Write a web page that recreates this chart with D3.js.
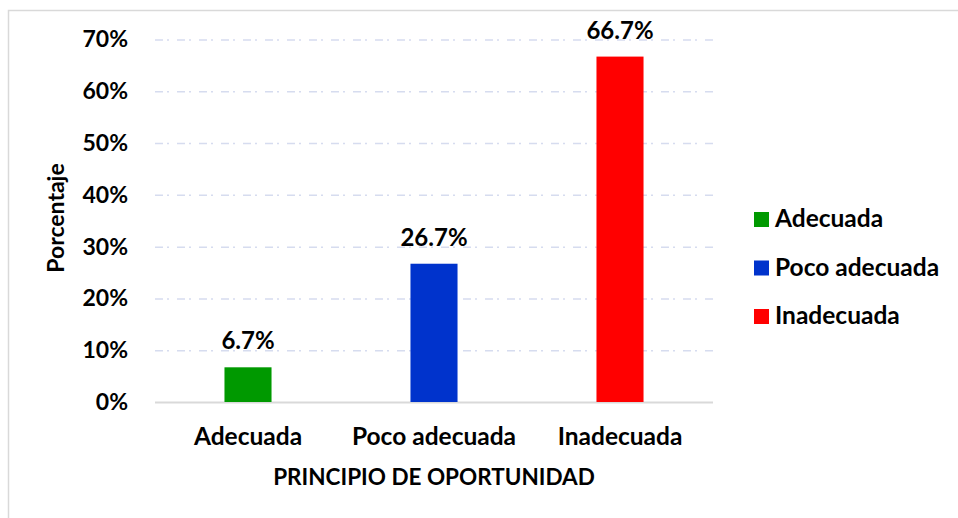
<!DOCTYPE html>
<html>
<head>
<meta charset="utf-8">
<script src="https://cdn.jsdelivr.net/npm/d3@7"></script>
<style>
  body { margin: 0; background: #fff; overflow: hidden; }
  text { font-family: Lato, "Open Sans", sans-serif; font-weight: bold; fill: #000; }
</style>
</head>
<body>
<svg width="958" height="518"></svg>
<script>
// data
const categories = ['Adecuada', 'Poco adecuada', 'Inadecuada'];
const values = [0.067, 0.267, 0.667];
const valueLabels = ['6.7%', '26.7%', '66.7%'];
const colors = ['#009900', '#0033cc', '#ff0000'];
const yTicks = [0, 0.1, 0.2, 0.3, 0.4, 0.5, 0.6, 0.7];

const svg = d3.select('svg');
const width = +svg.attr('width');
const height = +svg.attr('height');

const margin = {top: 39.5, right: 245, bottom: 116, left: 155};
const innerWidth = width - margin.left - margin.right;
const innerHeight = height - margin.top - margin.bottom;

// frame of the chart area (only top and left edges are inside the picture)
svg.append('path')
  .attr('d', `M8.5,${height}V10.5H${width}`)
  .attr('fill', 'none')
  .attr('stroke', '#d9d9d9')
  .attr('stroke-width', 1.5);

const g = svg.append('g')
  .attr('transform', `translate(${margin.left},${margin.top})`);

const xScale = d3.scaleBand()
  .domain(categories)
  .range([0, innerWidth])
  .paddingInner(0.747)
  .paddingOuter(0.3735);

const yScale = d3.scaleLinear()
  .domain([0, 0.7])
  .range([innerHeight, 0]);

// y axis with gridlines
const yAxisG = g.append('g')
  .call(d3.axisLeft(yScale)
    .tickValues(yTicks)
    .tickFormat(d3.format('.0%'))
    .tickSize(-innerWidth)
    .tickPadding(27))
  .attr('font-size', 23)
  .attr('font-family', 'Lato, sans-serif');
yAxisG.select('.domain').remove();
yAxisG.selectAll('.tick text').attr('fill', '#000');
yAxisG.selectAll('.tick line')
  .attr('stroke', '#d6dcef')
  .attr('stroke-width', 1.5)
  .attr('stroke-dasharray', '8,4,2,8');
yAxisG.selectAll('.tick').filter(d => d === 0).select('line')
  .attr('stroke', '#d9d9d9')
  .attr('stroke-width', 2)
  .attr('stroke-dasharray', null);

// x axis labels
const xAxisG = g.append('g')
  .attr('transform', `translate(0,${innerHeight})`)
  .call(d3.axisBottom(xScale).tickSize(0).tickPadding(26))
  .attr('font-size', 24.5)
  .attr('font-family', 'Lato, sans-serif');
xAxisG.select('.domain').remove();
xAxisG.selectAll('.tick text').attr('fill', '#000');

// bars
g.selectAll('rect.bar').data(values)
  .enter().append('rect')
  .attr('class', 'bar')
  .attr('x', (d, i) => xScale(categories[i]))
  .attr('y', d => yScale(d))
  .attr('width', xScale.bandwidth())
  .attr('height', d => innerHeight - yScale(d))
  .attr('fill', (d, i) => colors[i]);

// bar value labels
g.selectAll('text.vlabel').data(values)
  .enter().append('text')
  .attr('class', 'vlabel')
  .attr('x', (d, i) => xScale(categories[i]) + xScale.bandwidth() / 2)
  .attr('y', d => yScale(d) - 18)
  .attr('text-anchor', 'middle')
  .attr('font-size', 24)
  .text((d, i) => valueLabels[i]);

// axis titles
svg.append('text')
  .attr('x', margin.left + innerWidth / 2)
  .attr('y', 485)
  .attr('text-anchor', 'middle')
  .attr('font-size', 22.5)
  .text('PRINCIPIO DE OPORTUNIDAD');

svg.append('text')
  .attr('transform', 'translate(64,218) rotate(-90)')
  .attr('text-anchor', 'middle')
  .attr('font-size', 23)
  .text('Porcentaje');

// legend
const legend = svg.append('g')
  .attr('transform', 'translate(754,212)');
const item = legend.selectAll('g').data(categories)
  .enter().append('g')
  .attr('transform', (d, i) => `translate(0,${i * 48.5})`);
item.append('rect')
  .attr('width', 15).attr('height', 15)
  .attr('fill', (d, i) => colors[i]);
item.append('text')
  .attr('x', 21)
  .attr('y', 15)
  .attr('font-size', 24.5)
  .text(d => d);
</script>
</body>
</html>
